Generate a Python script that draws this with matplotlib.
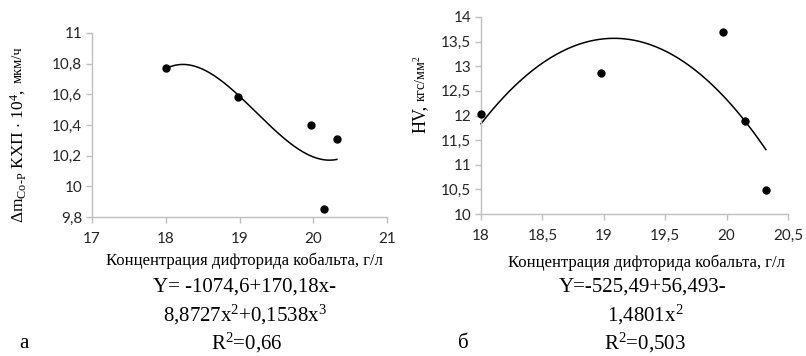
import numpy as np
import matplotlib
matplotlib.use("Agg")
import matplotlib.pyplot as plt

plt.rcParams['mathtext.fontset'] = 'custom'
plt.rcParams['mathtext.rm'] = 'Liberation Serif'
plt.rcParams['mathtext.it'] = 'Liberation Serif:italic'
plt.rcParams['mathtext.default'] = 'rm'

# data
conc = [18.0, 18.98, 19.97, 20.15, 20.32]
rate = [10.77, 10.58, 10.40, 9.85, 10.31]
hv = [12.03, 12.87, 13.70, 11.89, 10.49]

left_xticks = [17, 18, 19, 20, 21]
left_yticks = [9.8, 10.0, 10.2, 10.4, 10.6, 10.8, 11.0]
left_yticklabels = ["9,8", "10", "10,2", "10,4", "10,6", "10,8", "11"]
right_xticks = [18, 18.5, 19, 19.5, 20, 20.5]
right_xticklabels = ["18", "18,5", "19", "19,5", "20", "20,5"]
right_yticks = [10, 10.5, 11, 11.5, 12, 12.5, 13, 13.5, 14]
right_yticklabels = ["10", "10,5", "11", "11,5", "12", "12,5", "13", "13,5", "14"]

xlabel = "Концентрация дифторида кобальта, г/л"

W, H = 806, 356
fig = plt.figure(figsize=(W / 100, H / 100), dpi=100)

def fx(px):
    return px / W

def fy(py):
    return 1 - py / H

tickfont = dict(family="Lato", size=11)
serif = "Liberation Serif"
spine_c = "#bfbfbf"

def style(ax):
    for s in ["top", "right"]:
        ax.spines[s].set_visible(False)
    for s in ["left", "bottom"]:
        ax.spines[s].set_color(spine_c)
        ax.spines[s].set_linewidth(1.0)
    ax.tick_params(axis="both", direction="out", length=4, width=1.0,
                   color=spine_c, labelcolor="#262626")
    ax.tick_params(axis="x", pad=7)
    ax.tick_params(axis="y", pad=3)
    for lab in ax.get_xticklabels() + ax.get_yticklabels():
        lab.set_fontfamily(tickfont["family"])
        lab.set_fontsize(tickfont["size"])

# left panel
ax1 = fig.add_axes([fx(92), fy(217), fx(387 - 92), (217 - 33) / H])
ax1.set_xlim(17, 21)
ax1.set_ylim(9.8, 11.0)
ax1.set_xticks(left_xticks)
ax1.set_xticklabels([str(t) for t in left_xticks])
ax1.set_yticks(left_yticks)
ax1.set_yticklabels(left_yticklabels)
c1 = np.polyfit(conc, rate, 3)
xs = np.linspace(min(conc), max(conc), 200)
ax1.plot(xs, np.polyval(c1, xs), color="black", lw=1.1, zorder=2)
ax1.plot(conc, rate, "o", color="black", ms=5, zorder=3)
style(ax1)

# right panel
ax2 = fig.add_axes([fx(481), fy(214), fx(788 - 481), (214 - 17) / H])
ax2.set_xlim(18, 20.5)
ax2.set_ylim(10, 14)
ax2.set_xticks(right_xticks)
ax2.set_xticklabels(right_xticklabels)
ax2.set_yticks(right_yticks)
ax2.set_yticklabels(right_yticklabels)
c2 = np.polyfit(conc, hv, 2)
ax2.plot(xs, np.polyval(c2, xs), color="black", lw=1.1, zorder=2)
ax2.plot(conc, hv, "o", color="black", ms=5, zorder=3)
style(ax2)
for art in ax2.lines + ax1.lines:
    art.set_clip_on(False)

# x labels
fig.text(fx(244), fy(261), xlabel, family=serif, size=12, ha="center", va="center")
fig.text(fx(647), fy(263), xlabel, family=serif, size=12, ha="center", va="center")

# equations
eqsize = 15
fig.text(fx(245), fy(287), "Y= -1074,6+170,18x-", family=serif, size=eqsize, ha="center", va="center")
fig.text(fx(245), fy(315), r"8,8727x$^2$+0,1538x$^3$", family=serif, size=eqsize, ha="center", va="center")
fig.text(fx(247), fy(343), r"R$^2$=0,66", family=serif, size=eqsize, ha="center", va="center")
fig.text(fx(24), fy(343), "а", family=serif, size=eqsize, ha="center", va="center")

fig.text(fx(643), fy(287), "Y=-525,49+56,493-", family=serif, size=eqsize, ha="center", va="center")
fig.text(fx(645), fy(315), r"1,4801x$^2$", family=serif, size=eqsize, ha="center", va="center")
fig.text(fx(645), fy(343), r"R$^2$=0,503", family=serif, size=eqsize, ha="center", va="center")
fig.text(fx(463), fy(343), "б", family=serif, size=eqsize, ha="center", va="center")

# y labels (two-size rotated texts)
fig.canvas.draw()
r = fig.canvas.get_renderer()

t1 = fig.text(fx(18), fy(223), r"$\Delta$m$_{\mathrm{Co\text{-}P}}$ КХП $\cdot$ 10$^4$,", family=serif,
              size=12.5, rotation=90, ha="center", va="bottom")
bb = t1.get_window_extent(r)
fig.text(fx(18), (bb.y1 + 6) / H, "мкм/ч", family=serif, size=10.5, rotation=90,
         ha="center", va="bottom")

t2 = fig.text(fx(420), fy(133), "HV,", family=serif, size=13, rotation=90, ha="center", va="bottom")
bb2 = t2.get_window_extent(r)
fig.text(fx(421), (bb2.y1 + 3) / H, r"кгс/мм$^2$", family=serif, size=10, rotation=90,
         ha="center", va="bottom")

fig.savefig("out.png", dpi=100)
